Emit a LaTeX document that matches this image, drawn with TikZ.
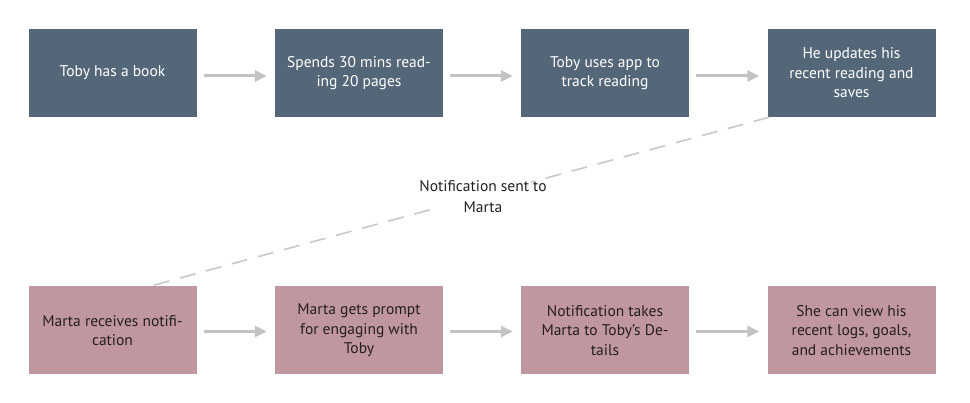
\documentclass[tikz,border=0pt]{standalone}
\usepackage{fontspec}
\setmainfont{PT Sans}
\usetikzlibrary{arrows.meta,calc}
\definecolor{slate}{HTML}{546779}
\definecolor{rose}{HTML}{C1979F}
\definecolor{arrgray}{HTML}{C3C3C3}
\definecolor{dashgray}{HTML}{C8C8C8}
\definecolor{ink}{HTML}{231F20}
\begin{document}
\begin{tikzpicture}[x=1pt,y=-1pt,
  box/.style={minimum width=168pt,minimum height=88pt,inner sep=0pt,align=center,
    font=\fontsize{15.5}{19.5}\selectfont},
  topbox/.style={box,fill=slate,text=white},
  botbox/.style={box,fill=rose,text=ink},
  arr/.style={draw=arrgray,line width=3pt,-{Triangle[length=12pt,width=11pt]}},
  dashline/.style={draw=dashgray,line width=1.6pt,dash pattern=on 16pt off 11pt},
  lbl/.style={align=center,text=ink,inner sep=0pt,font=\fontsize{15.5}{21}\selectfont}]
\useasboundingbox (0,0) rectangle (970,403);
\node[topbox] (b1) at (112.5,73) {Toby has a book};
\node[topbox] (b2) at (359,73) {Spends 30 mins read-\\ing 20 pages};
\node[topbox] (b3) at (605,73) {Toby uses app to\\track reading};
\node[topbox] (b4) at (851.5,73) {He updates his\\recent reading and\\saves};
\node[botbox] (b5) at (112.5,330.5) {Marta receives notifi-\\cation};
\node[botbox] (b6) at (359,330.5) {Marta gets prompt\\for engaging with\\Toby};
\node[botbox] (b7) at (605,330.5) {Notification takes\\Marta to Toby’s De-\\tails};
\node[botbox] (b8) at (851.5,330.5) {She can view his\\recent logs, goals,\\and achievements};
\foreach \a/\b in {b1/b2,b2/b3,b3/b4}
  \draw[arr,shorten <=7pt,shorten >=8pt] ([yshift=-3pt]\a.east) -- ([yshift=-3pt]\b.west);
\foreach \a/\b in {b5/b6,b6/b7,b7/b8}
  \draw[arr,shorten <=7pt,shorten >=8pt] ([yshift=-1pt]\a.east) -- ([yshift=-1pt]\b.west);
\coordinate (ds) at ($(b4.south west)+(2,0)$);
\coordinate (de) at ($(b5.north west)!0.72!(b5.north east)$);
\node[lbl] (lab) at (483,197) {Notification sent to\\Marta};
\draw[dashline] (ds) -- ($(ds)!0.384!(de)$);
\draw[dashline] ($(ds)!0.548!(de)$) -- (de);
\end{tikzpicture}
\end{document}
